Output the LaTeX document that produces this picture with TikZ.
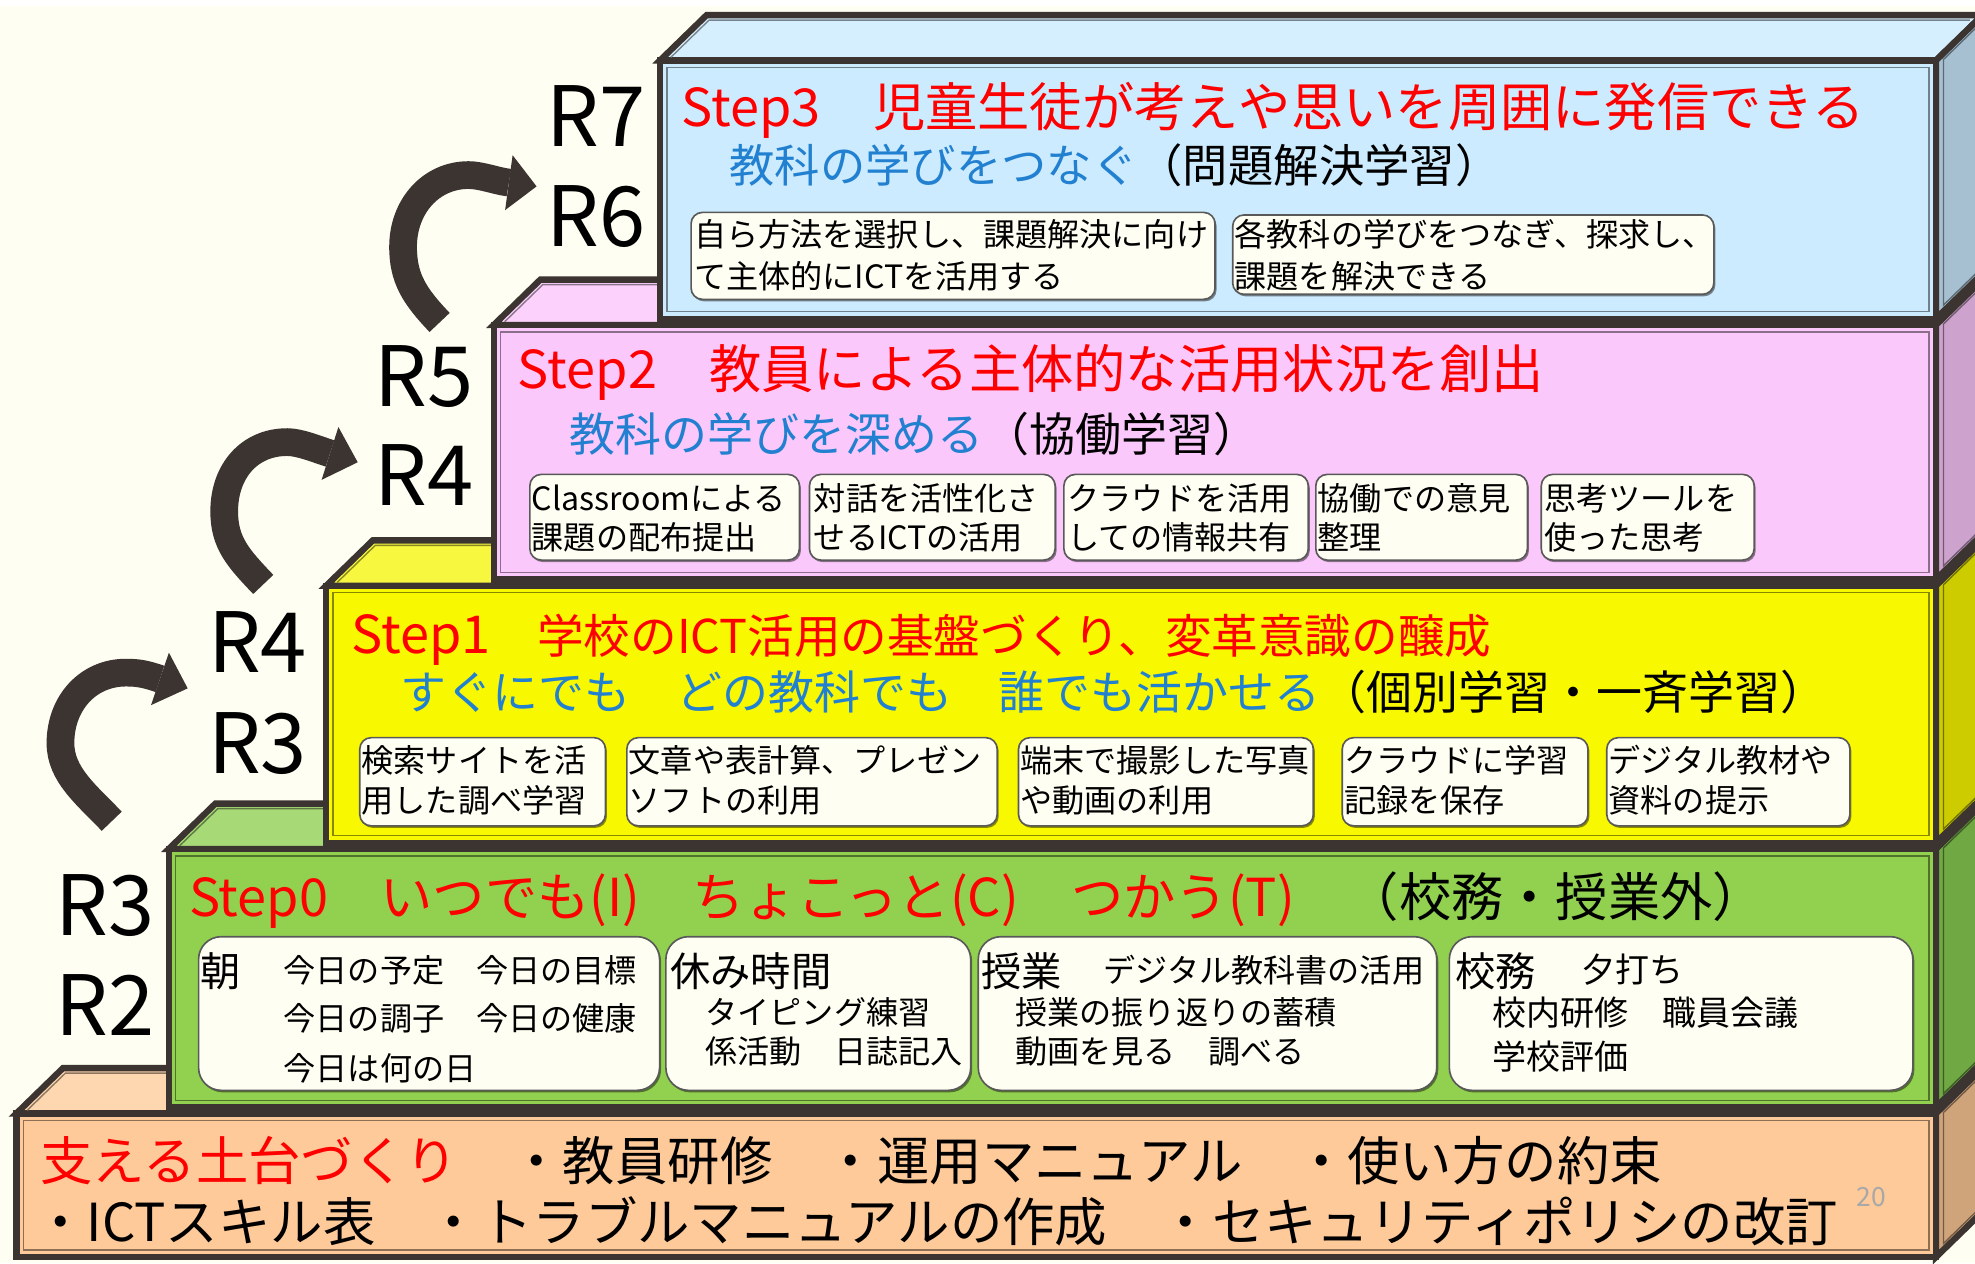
\documentclass[tikz,border=0pt]{standalone}
\usepackage{fontspec}
\setmainfont{Noto Sans CJK JP}
\usetikzlibrary{calc,shadows}

\definecolor{bgc}{HTML}{FEFEF2}
\definecolor{dk}{HTML}{3B3431}
\definecolor{jblue}{HTML}{2280D0}
\definecolor{pgnum}{HTML}{A8A8A8}
\definecolor{cream}{HTML}{FEFEF2}
\definecolor{s3f}{HTML}{CCEBFE}
\definecolor{s3t}{HTML}{D6EFFE}
\definecolor{s3s}{HTML}{A6BFD1}
\definecolor{s2f}{HTML}{FBC8FB}
\definecolor{s2t}{HTML}{FCD2FC}
\definecolor{s2s}{HTML}{CDA3CD}
\definecolor{s1f}{HTML}{F8F800}
\definecolor{s1t}{HTML}{F7F740}
\definecolor{s1s}{HTML}{CCCC00}
\definecolor{s0f}{HTML}{92D050}
\definecolor{s0t}{HTML}{A8D977}
\definecolor{s0s}{HTML}{70A843}
\definecolor{ff}{HTML}{FECA9A}
\definecolor{ft}{HTML}{FED6AF}
\definecolor{fs}{HTML}{CFA47B}

\newcommand{\fsz}[1]{\fontsize{#1}{#1}\selectfont}

% #1 left, #2 top, #3 bottom, #4 front colour, #5 top colour, #6 side colour
\newcommand{\stepcube}[6]{%
  \filldraw[face, fill=#5] (#1,#2) -- ++(37,-36) -- (1574,#2-36) -- (1537,#2) -- cycle;
  \filldraw[face, fill=#6] (1537,#2) -- (1574,#2-36) -- (1574,#3-36) -- (1537,#3) -- cycle;
  \filldraw[face, fill=#4] (#1,#2) rectangle (1537,#3);
  \draw[inl=#4] (#1+5.5,#2+5.5) rectangle (1531.5,#3-5.5);
  \draw[inl=#5] (#1+8.6,#2-2.5) -- (#1+38.9,#2-32) -- (1563.9,#2-32);
  \draw[inl=#6] (1574,#3-41) -- (1543,#3-10.8) -- (1543,#2-0.8) -- (1574,#2-31);
}
% sub box node: name, x1, y1, x2, y2
\newcommand{\subbox}[5]{\node[subbox, minimum width={#4pt-#2pt}, minimum height={#5pt-#3pt}] (#1) at (#2,#3) {};}
% text line: name, x, baseline y, size, text
\newcommand{\jt}[5]{\node[txt, font=\fsz{#4}] (#1) at (#2,#3) {#5};}
% curved arrow from named coordinates: prefix
\newcommand{\bigcurve}[1]{%
  \draw[band] (#1t) .. controls +(-20,-21) and +(0,25) .. (#1l)
    .. controls +(0,-32) and +(-30,0) .. (#1u)
    .. controls +(10,0) and ($(#1n)!-0.5!(#1p)$) .. (#1n);
  \fill[dk] ($(#1n)!22pt!90:(#1p)$) -- (#1p) -- ($(#1n)!22pt!-90:(#1p)$) -- cycle;
}

\begin{document}
\begin{tikzpicture}[x=1pt,y=-1pt,
  face/.style={draw=dk, line width=5pt, line join=miter},
  inl/.style={draw=#1!55!black, line width=1.1pt},
  subbox/.style={draw=black!65, line width=1.3pt, fill=cream, rounded corners=9pt,
    inner sep=0pt, anchor=north west,
    drop shadow={shadow xshift=1.2pt, shadow yshift=-1.6pt, fill=black, opacity=0.45}},
  bigsub/.style={subbox, rounded corners=18pt},
  txt/.style={inner sep=0pt, anchor=base west},
  rlab/.style={inner sep=0pt, anchor=base west, font=\fsz{66}},
  band/.style={draw=dk, line width=22pt, line cap=butt}]
\useasboundingbox (0,0) rectangle (1568,1003);
\clip (0,0) rectangle (1568,1003);
\fill[bgc] (0,0) rectangle (1568,1003);
\fill[white] (0,0) rectangle (1568,5);

% ---- stacked boxes ----
\stepcube{13}{884}{998}{ff}{ft}{fs}
\stepcube{134}{674}{879}{s0f}{s0t}{s0s}
\stepcube{259}{465}{669}{s1f}{s1t}{s1s}
\stepcube{392}{258}{460}{s2f}{s2t}{s2s}
\stepcube{524}{48}{253}{s3f}{s3t}{s3s}

% ---- Step3 ----
\jt{s3title}{541}{100.5}{41.5}{\textcolor{red}{Step3　児童生徒が考えや思いを周囲に発信できる}}
\jt{s3sub}{579}{144.5}{36}{\textcolor{jblue}{教科の学びをつなぐ}（問題解決学習）}
\subbox{s3b1}{548}{168}{964}{237}
\subbox{s3b2}{978}{170}{1360}{233}
\jt{s3b1a}{551}{196}{25.5}{自ら方法を選択し、課題解決に向け}
\jt{s3b1b}{551}{229}{25.5}{て主体的にICTを活用する}
\jt{s3b2a}{980}{196}{25.5}{各教科の学びをつなぎ、探求し、}
\jt{s3b2b}{980}{229}{25.5}{課題を解決できる}

% ---- Step2 ----
\jt{s2title}{411}{308.5}{41.5}{\textcolor{red}{Step2　教員による主体的な活用状況を創出}}
\jt{s2sub}{452}{358.5}{36.5}{\textcolor{jblue}{教科の学びを深める}（協働学習）}
\subbox{s2b1}{420}{376}{634}{444}
\subbox{s2b2}{642}{376}{837}{444}
\subbox{s2b3}{844}{376}{1038}{444}
\subbox{s2b4}{1044}{376}{1212}{444}
\subbox{s2b5}{1223}{376}{1392}{444}
\jt{s2b1a}{422}{405}{25.5}{Classroomによる}
\jt{s2b1b}{422}{436}{25.5}{課題の配布提出}
\jt{s2b2a}{646}{405}{25.5}{対話を活性化さ}
\jt{s2b2b}{646}{436}{25.5}{せるICTの活用}
\jt{s2b3a}{847}{405}{25.5}{クラウドを活用}
\jt{s2b3b}{847}{436}{25.5}{しての情報共有}
\jt{s2b4a}{1046}{405}{25.5}{協働での意見}
\jt{s2b4b}{1046}{436}{25.5}{整理}
\jt{s2b5a}{1226}{405}{25.5}{思考ツールを}
\jt{s2b5b}{1226}{436}{25.5}{使った思考}

% ---- Step1 ----
\jt{s1title}{279}{519}{41.5}{\textcolor{red}{Step1{\fsz{37}　学校のICT活用の基盤づくり、変革意識の醸成}}}
\jt{s1sub}{318}{563.5}{36.5}{\textcolor{jblue}{すぐにでも　どの教科でも　誰でも活かせる}（個別学習・一斉学習）}
\subbox{s1b1}{285}{585}{480}{655}
\subbox{s1b2}{497}{585}{791}{655}
\subbox{s1b3}{808}{585}{1042}{655}
\subbox{s1b4}{1065}{585}{1260}{655}
\subbox{s1b5}{1275}{585}{1468}{655}
\jt{s1b1a}{287}{613}{25.5}{検索サイトを活}
\jt{s1b1b}{287}{645}{25.5}{用した調べ学習}
\jt{s1b2a}{499}{613}{25.5}{文章や表計算、プレゼン}
\jt{s1b2b}{499}{645}{25.5}{ソフトの利用}
\jt{s1b3a}{810}{613}{25.5}{端末で撮影した写真}
\jt{s1b3b}{810}{645}{25.5}{や動画の利用}
\jt{s1b4a}{1067}{613}{25.5}{クラウドに学習}
\jt{s1b4b}{1067}{645}{25.5}{記録を保存}
\jt{s1b5a}{1277}{613}{25.5}{デジタル教材や}
\jt{s1b5b}{1277}{645}{25.5}{資料の提示}

% ---- Step0 ----
\jt{s0title}{150}{728}{41.5}{\textcolor{red}{Step0　いつでも(I)　ちょこっと(C)　つかう(T)}　（校務・授業外）}
\node[bigsub, minimum width=366pt, minimum height=122pt] (s0b1) at (157,743) {};
\node[bigsub, minimum width=242pt, minimum height=122pt] (s0b2) at (528,743) {};
\node[bigsub, minimum width=364pt, minimum height=122pt] (s0b3) at (776,743) {};
\node[bigsub, minimum width=368pt, minimum height=122pt] (s0b4) at (1150,743) {};
\jt{s0b1h}{159}{783}{32}{朝}
\jt{s0b1a}{225}{780}{25.5}{今日の予定　今日の目標}
\jt{s0b1b}{225}{818}{25.5}{今日の調子　今日の健康}
\jt{s0b1c}{225}{858}{25.5}{今日は何の日}
\jt{s0b2h}{532}{783}{32}{休み時間}
\jt{s0b2a}{560}{813}{25.5}{タイピング練習}
\jt{s0b2b}{560}{844}{25.5}{係活動　日誌記入}
\jt{s0b3h}{779}{783}{32}{授業}
\jt{s0b3a}{876}{780}{25.5}{デジタル教科書の活用}
\jt{s0b3b}{806}{813}{25.5}{授業の振り返りの蓄積}
\jt{s0b3c}{806}{844}{25.5}{動画を見る　調べる}
\jt{s0b4h}{1155}{783}{32}{校務}
\jt{s0b4a}{1255}{780}{27}{夕打ち}
\jt{s0b4b}{1185}{814}{27}{校内研修　職員会議}
\jt{s0b4c}{1185}{849}{27}{学校評価}

% ---- foundation ----
\jt{fa}{32}{937.5}{41.6}{\textcolor{red}{支える土台づくり}　・教員研修　・運用マニュアル　・使い方の約束}
\jt{fb}{27}{985.5}{41.6}{・ICTスキル表　・トラブルマニュアルの作成　・セキュリティポリシの改訂}
\jt{pg}{1474}{958}{21}{\textcolor{pgnum}{20}}

% ---- R labels ----
\node[rlab] (r7) at (434,116.5) {R7};
\node[rlab] (r6) at (434,196) {R6};
\node[rlab] (r5) at (297,323) {R5};
\node[rlab] (r4a) at (297,401) {R4};
\node[rlab] (r4b) at (165,534) {R4};
\node[rlab] (r3a) at (165,614) {R3};
\node[rlab] (r3b) at (44,743) {R3};
\node[rlab] (r2) at (44,822) {R2};

% ---- curved arrows ----
\coordinate (a1t) at (88.7,652); \coordinate (a1l) at (48,590);
\coordinate (a1u) at (100,534);  \coordinate (a1n) at (127,539); \coordinate (a1p) at (149,546.5);
\coordinate (a2t) at (209,464);  \coordinate (a2l) at (178,406);
\coordinate (a2u) at (228,351);  \coordinate (a2n) at (262,360); \coordinate (a2p) at (284,367);
\coordinate (a3t) at (349,256);  \coordinate (a3l) at (320,196);
\coordinate (a3u) at (372,139);  \coordinate (a3n) at (404,145); \coordinate (a3p) at (426,148);
\bigcurve{a1}
\bigcurve{a2}
\bigcurve{a3}
\end{tikzpicture}
\end{document}
